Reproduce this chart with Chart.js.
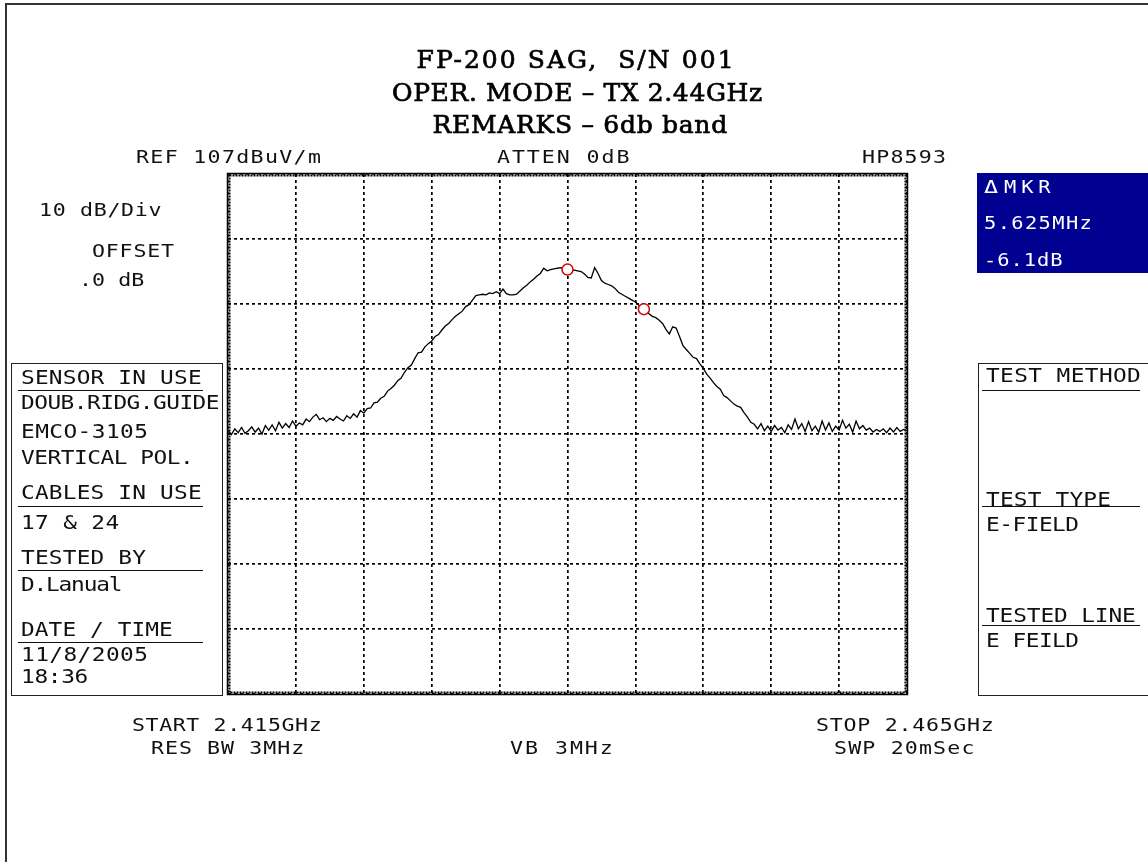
<!DOCTYPE html>
<html>
<head>
<meta charset="utf-8">
<script src="https://cdn.jsdelivr.net/npm/chart.js@4"></script>
<style>
html,body{margin:0;padding:0;background:#fff;}
#wrap{position:relative;width:1148px;height:862px;overflow:hidden;background:#fff;}
#c{position:absolute;left:0;top:0;}
.t{position:absolute;white-space:pre;margin:0;padding:0;transform-origin:0 50%;}
.box{position:absolute;box-sizing:border-box;}
.rule{position:absolute;height:0;border-top:1.5px solid #111;}
</style>
</head>
<body>
<div id="wrap">
  <canvas id="c" width="1148" height="862"></canvas>
</div>
<script>
// ---------- data ----------
const START_MHZ = 2415;
const STOP_MHZ = 2465;
const STEP_MHZ = 0.25;
const REF_LEVEL = 107;       // dBuV/m, top of screen
const DB_PER_DIV = 10;
const Y_DIVS = 8;
const X_DIVS = 10;

// trace levels (dBuV/m), one per 0.25 MHz sweep point
const traceLevels = [
  67.6, 66.9, 67.8, 67.2, 68.0, 67.1, 67.5, 68.1, 67.3, 67.9,
  67.0, 68.3, 67.6, 68.4, 67.5, 68.8, 67.9, 68.6, 68.0, 69.0,
  68.2, 68.7, 68.4, 69.3, 68.9, 69.6, 70.0, 69.2, 69.5, 68.9,
  69.4, 69.1, 69.7, 69.3, 69.0, 69.8, 69.4, 70.1, 69.6, 70.6,
  70.2, 70.9, 71.0, 71.8, 71.9, 72.5, 72.8, 73.6, 74.0, 74.5,
  75.2, 75.6, 76.5, 77.2, 77.6, 78.6, 79.5, 79.6, 80.4, 80.9,
  81.3, 82.0, 82.3, 83.0, 83.6, 84.0, 84.6, 85.1, 85.5, 85.9,
  86.6, 86.9, 87.6, 88.3, 88.4, 88.5, 88.4, 88.7, 88.6, 88.9,
  88.6, 89.3, 88.6, 88.4, 88.4, 88.5, 89.0, 89.5, 89.9, 90.4,
  90.8, 91.3, 91.7, 92.5, 92.1, 92.3, 92.4, 92.5, 92.6, 92.4,
  92.3, 92.2, 92.2, 92.1, 92.0, 91.6, 91.1, 91.0, 92.6, 91.7,
  90.6, 90.2, 90.0, 89.8, 89.4, 88.8, 88.5, 88.2, 87.9, 87.6,
  87.3, 86.8, 86.4, 85.9, 85.5, 85.1, 84.9, 84.5, 84.0, 83.1,
  82.4, 83.5, 83.3, 82.0, 80.6, 80.0, 79.4, 78.8, 78.6, 77.8,
  77.1, 76.2, 75.6, 74.9, 74.3, 73.9, 72.9, 72.6, 72.1, 71.6,
  71.3, 71.1, 70.3, 69.6, 68.8, 68.5, 67.8, 68.6, 67.5, 68.2,
  67.4, 68.3, 67.6, 68.0, 67.2, 68.4, 67.7, 69.3, 67.8, 68.6,
  67.4, 68.9, 67.5, 68.2, 67.3, 69.0, 67.6, 68.7, 67.4, 68.2,
  67.6, 69.1, 67.9, 68.5, 67.3, 69.0, 67.8, 68.3, 67.6, 67.9,
  67.3, 67.7, 67.4, 67.8, 67.2, 67.9, 67.3, 68.0, 67.4, 67.7,
  67.5
];

// markers (MHz, dBuV/m)
const markerFreqs = [2440.0, 2445.625];
const markerLevels = [92.3, 86.2];

// ---------- chart ----------
const tracePoints = traceLevels.map((v, i) => ({ x: START_MHZ + i * STEP_MHZ, y: v }));
const markerPoints = markerFreqs.map((f, i) => ({ x: f, y: markerLevels[i] }));

const framePlugin = {
  id: 'frame',
  beforeDatasetsDraw(chart) {
    const { ctx, chartArea: a } = chart;
    ctx.save();
    ctx.strokeStyle = '#000';
    ctx.lineWidth = 1.5;
    ctx.setLineDash([]);
    ctx.strokeRect(a.left - 0.5, a.top - 0.5, a.right - a.left + 1, a.bottom - a.top + 1);
    ctx.lineWidth = 2;
    ctx.setLineDash([2, 1]);
    ctx.strokeRect(a.left + 1.5, a.top + 1.5, a.right - a.left - 3, a.bottom - a.top - 3);
    ctx.restore();
  }
};

new Chart(document.getElementById('c'), {
  type: 'line',
  data: {
    datasets: [
      {
        label: 'markers',
        data: markerPoints,
        showLine: false,
        pointRadius: 5.5,
        pointHoverRadius: 5.5,
        pointBorderColor: '#d40000',
        pointBackgroundColor: '#ffffff',
        pointBorderWidth: 1.5,
        order: 0
      },
      {
        label: 'trace',
        data: tracePoints,
        borderColor: '#000',
        borderWidth: 1.3,
        pointRadius: 0,
        tension: 0,
        fill: false,
        order: 1
      }
    ]
  },
  options: {
    responsive: false,
    animation: false,
    devicePixelRatio: 1,
    layout: { padding: { left: 228, top: 174, right: 241, bottom: 168 } },
    plugins: { legend: { display: false }, tooltip: { enabled: false } },
    scales: {
      x: {
        type: 'linear',
        min: START_MHZ,
        max: STOP_MHZ,
        ticks: { display: false, stepSize: (STOP_MHZ - START_MHZ) / X_DIVS },
        grid: { color: '#000', lineWidth: 1.7, drawTicks: false },
        border: { display: false, dash: [3, 3] },
        afterFit(s) { s.height = 0; }
      },
      y: {
        type: 'linear',
        min: REF_LEVEL - DB_PER_DIV * Y_DIVS,
        max: REF_LEVEL,
        ticks: { display: false, stepSize: DB_PER_DIV },
        grid: { color: '#000', lineWidth: 1.7, drawTicks: false },
        border: { display: false, dash: [3, 3] },
        afterFit(s) { s.width = 0; }
      }
    }
  },
  plugins: [framePlugin]
});

// ---------- frames / boxes ----------
const wrap = document.getElementById('wrap');
function addBox(style) {
  const d = document.createElement('div');
  d.className = 'box';
  Object.assign(d.style, style);
  wrap.appendChild(d);
  return d;
}
// page border (top & left only)
addBox({ left: '5px', top: '3px', width: '1200px', height: '900px', borderLeft: '2px solid #333', borderTop: '2px solid #333' });
// left info box
addBox({ left: '11px', top: '363px', width: '212px', height: '333px', border: '1.5px solid #222' });
// right info box
addBox({ left: '978px', top: '363px', width: '200px', height: '333px', border: '1.5px solid #222' });
// marker readout box
addBox({ left: '977px', top: '173px', width: '200px', height: '100px', background: 'rgb(0,0,145)' });

function rule(x1, x2, y) {
  const d = document.createElement('div');
  d.className = 'rule';
  d.style.left = x1 + 'px';
  d.style.width = (x2 - x1) + 'px';
  d.style.top = y + 'px';
  wrap.appendChild(d);
}
[390, 506, 569.5, 642].forEach(y => rule(18, 203, y));
[389.5, 506, 624.5].forEach(y => rule(982, 1140, y));

// ---------- text ----------
const MONO = '"DejaVu Sans Mono", "Liberation Mono", monospace';
const SERIF = '"DejaVu Serif", "Liberation Serif", serif';
function placeText(txt, x, cy, w, fs, opts = {}) {
  const d = document.createElement('div');
  d.className = 't';
  d.textContent = txt;
  d.style.fontFamily = opts.family || MONO;
  d.style.fontSize = fs + 'px';
  d.style.lineHeight = fs + 'px';
  d.style.color = opts.color || '#111';
  if (opts.weight) d.style.fontWeight = opts.weight;
  if (opts.stroke) d.style.webkitTextStroke = opts.stroke;
  d.style.top = (cy - 0.48 * fs) + 'px';
  d.style.left = '0px';
  wrap.appendChild(d);
  const sx = opts.sx || 1;
  const nat = d.offsetWidth;
  const n = [...txt].length;
  const ls = n > 1 ? (w / sx - nat) / (n - 1) : 0;
  d.style.letterSpacing = ls.toFixed(2) + 'px';
  if (sx !== 1) d.style.transform = 'scaleX(' + sx + ')';
  d.style.left = (opts.center ? x - w / 2 : x - 1) + 'px';
}
const HP = { sx: 1.2 };
const HPW = { sx: 1.2, color: '#fff' };

// title
const TITLE = { family: SERIF, center: true, color: '#000', stroke: '0.7px #000' };
placeText('FP-200 SAG,  S/N 001', 575, 59, 317, 25, TITLE);
placeText('OPER. MODE \u2013 TX 2.44GHz', 577, 92, 370, 25, TITLE);
placeText('REMARKS \u2013 6db band', 580, 124, 295, 25, TITLE);

// header annotations
placeText('REF 107dBuV/m', 137, 157, 185, 18, HP);
placeText('ATTEN 0dB', 498, 157, 133, 18, HP);
placeText('HP8593', 863, 157, 84, 18, HP);
placeText('10 dB/Div', 40, 210, 123, 18, HP);
placeText('OFFSET', 93, 251, 82, 18, HP);
placeText('.0 dB', 80, 280, 65, 18, HP);

// marker readout
placeText('\u0394', 985, 187, 15, 18, { color: '#fff', sx: 1.3 });
placeText('MKR', 1005, 187, 47, 17, HPW);
placeText('5.625MHz', 985, 223, 108, 17, HPW);
placeText('-6.1dB', 985, 260, 78, 17, HPW);

// left panel
placeText('SENSOR IN USE', 22, 377, 181, 19, HP);
placeText('DOUB.RIDG.GUIDE', 22, 402, 199, 19, HP);
placeText('EMCO-3105', 22, 431, 127, 19, HP);
placeText('VERTICAL POL.', 22, 457, 173, 19, HP);
placeText('CABLES IN USE', 22, 492, 181, 19, HP);
placeText('17 & 24', 22, 522, 98, 19, HP);
placeText('TESTED BY', 22, 557, 125, 19, HP);
placeText('D.Lanual', 22, 584, 102, 19, HP);
placeText('DATE / TIME', 22, 629, 152, 19, HP);
placeText('11/8/2005', 22, 654, 127, 19, HP);
placeText('18:36', 22, 676, 67, 19, HP);

// right panel
placeText('TEST METHOD', 987, 375, 155, 19, HP);
placeText('TEST TYPE', 987, 499, 125, 19, HP);
placeText('E-FIELD', 987, 524, 93, 19, HP);
placeText('TESTED LINE', 987, 615, 150, 19, HP);
placeText('E FEILD', 987, 640, 93, 19, HP);

// footer
placeText('START 2.415GHz', 133, 725, 190, 18, HP);
placeText('RES BW 3MHz', 152, 748, 153, 18, HP);
placeText('VB 3MHz', 511, 748, 103, 18, HP);
placeText('STOP 2.465GHz', 817, 725, 178, 18, HP);
placeText('SWP 20mSec', 835, 748, 140, 18, HP);
</script>
</body>
</html>
